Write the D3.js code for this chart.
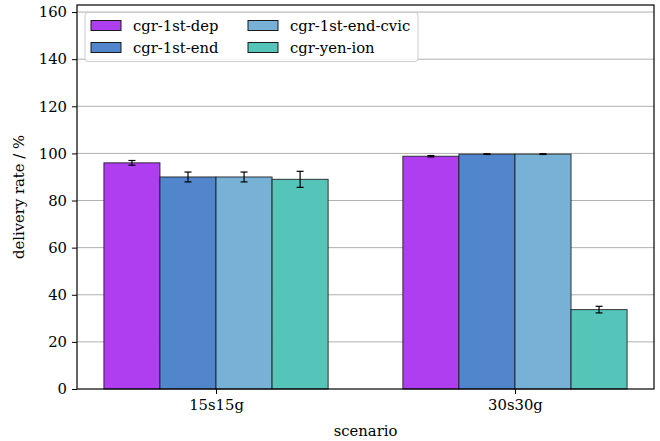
<!DOCTYPE html>
<html>
<head>
<meta charset="utf-8">
<script src="https://cdn.jsdelivr.net/npm/d3@7"></script>
<style>
html,body{margin:0;padding:0;background:#fff;}
</style>
</head>
<body>
<svg id="chart" width="660" height="441"></svg>
<script>
const categories = ["15s15g", "30s30g"];
const seriesNames = ["cgr-1st-dep", "cgr-1st-end", "cgr-1st-end-cvic", "cgr-yen-ion"];
const seriesColors = ["#ae3ef0", "#5286cc", "#78b1d6", "#55c4b9"];
const depValues = [96.0, 98.8];
const depErrors = [1.0, 0.3];
const endValues = [90.0, 99.7];
const endErrors = [2.1, 0.15];
const cvicValues = [90.0, 99.7];
const cvicErrors = [2.1, 0.15];
const yenValues = [89.0, 33.7];
const yenErrors = [3.4, 1.4];
const yTicks = [0, 20, 40, 60, 80, 100, 120, 140, 160];

const seriesValues = [depValues, endValues, cvicValues, yenValues];
const seriesErrors = [depErrors, endErrors, cvicErrors, yenErrors];

const FONT = "'DejaVu Serif', serif";
const svg = d3.select("#chart").attr("font-family", FONT);
const pLeft = 77, pRight = 654, pTop = 5, pBottom = 389;
const fs = 14.8;

const x = d3.scaleLinear().domain([-0.465, 1.465]).range([pLeft, pRight]);
const y = d3.scaleLinear().domain([0, 163]).range([pBottom, pTop]);
const barW = 0.1875;

// grid
svg.append("g").selectAll("line").data(yTicks.filter(d => d > 0)).join("line")
  .attr("x1", pLeft).attr("x2", pRight)
  .attr("y1", d => y(d)).attr("y2", d => y(d))
  .attr("stroke", "#b0b0b0").attr("stroke-width", 1);

// bars
const barData = [];
seriesNames.forEach((s, si) => {
  categories.forEach((c, ci) => {
    const xc = ci + (si - 1.5) * barW;
    barData.push({si, ci, x0: xc - barW / 2, x1: xc + barW / 2, xc, v: seriesValues[si][ci], e: seriesErrors[si][ci]});
  });
});
svg.append("g").selectAll("rect").data(barData).join("rect")
  .attr("x", d => x(d.x0)).attr("width", d => x(d.x1) - x(d.x0))
  .attr("y", d => y(d.v)).attr("height", d => y(0) - y(d.v))
  .attr("fill", d => seriesColors[d.si])
  .attr("stroke", "#1a1a1a").attr("stroke-opacity", 0.85).attr("stroke-width", 1);

// error bars
const eg = svg.append("g").attr("stroke", "#000").attr("stroke-width", 1.2);
barData.forEach(d => {
  const cx = x(d.xc);
  eg.append("line").attr("x1", cx).attr("x2", cx).attr("y1", y(d.v - d.e)).attr("y2", y(d.v + d.e));
  eg.append("line").attr("x1", cx - 3.5).attr("x2", cx + 3.5).attr("y1", y(d.v - d.e)).attr("y2", y(d.v - d.e));
  eg.append("line").attr("x1", cx - 3.5).attr("x2", cx + 3.5).attr("y1", y(d.v + d.e)).attr("y2", y(d.v + d.e));
});

// axes
const yAxis = d3.axisLeft(y).tickValues(yTicks).tickSize(5).tickPadding(5);
const ya = svg.append("g").attr("transform", `translate(${pLeft},0)`).call(yAxis);
const xAxis = d3.axisBottom(d3.scaleLinear().domain(x.domain()).range(x.range()))
  .tickValues([0, 1]).tickFormat(d => categories[d]).tickSize(5).tickPadding(5);
const xa = svg.append("g").attr("transform", `translate(0,${pBottom})`).call(xAxis);
[ya, xa].forEach(a => {
  a.attr("font-family", FONT).attr("font-size", fs);
  a.select(".domain").remove();
  a.selectAll("text").attr("fill", "#000");
  a.selectAll("line").attr("stroke", "#000").attr("stroke-width", 1);
});

// spines
svg.append("rect").attr("x", pLeft).attr("y", pTop).attr("width", pRight - pLeft).attr("height", pBottom - pTop)
  .attr("fill", "none").attr("stroke", "#000").attr("stroke-width", 1.2);

// axis labels
svg.append("text").attr("x", (pLeft + pRight) / 2).attr("y", 436).attr("text-anchor", "middle")
  .attr("font-size", fs).text("scenario");
svg.append("text").attr("transform", `translate(24,${(pTop + pBottom) / 2}) rotate(-90)`)
  .attr("text-anchor", "middle").attr("font-size", fs).text("delivery rate / %");

// legend
const lg = svg.append("g");
lg.append("rect").attr("x", 85).attr("y", 12.5).attr("width", 333).attr("height", 49)
  .attr("rx", 3).attr("fill", "#fff").attr("fill-opacity", 0.8).attr("stroke", "#cccccc").attr("stroke-width", 1);
const legPos = [[91, 20.5], [91, 42.5], [248, 20.5], [248, 42.5]];
seriesNames.forEach((s, i) => {
  const [lx, ly] = legPos[i];
  lg.append("rect").attr("x", lx).attr("y", ly).attr("width", 30).attr("height", 10)
    .attr("fill", seriesColors[i]).attr("stroke", "#1a1a1a").attr("stroke-width", 1);
  lg.append("text").attr("x", lx + 42).attr("y", ly + 10).attr("font-size", fs).text(s);
});
</script>
</body>
</html>
